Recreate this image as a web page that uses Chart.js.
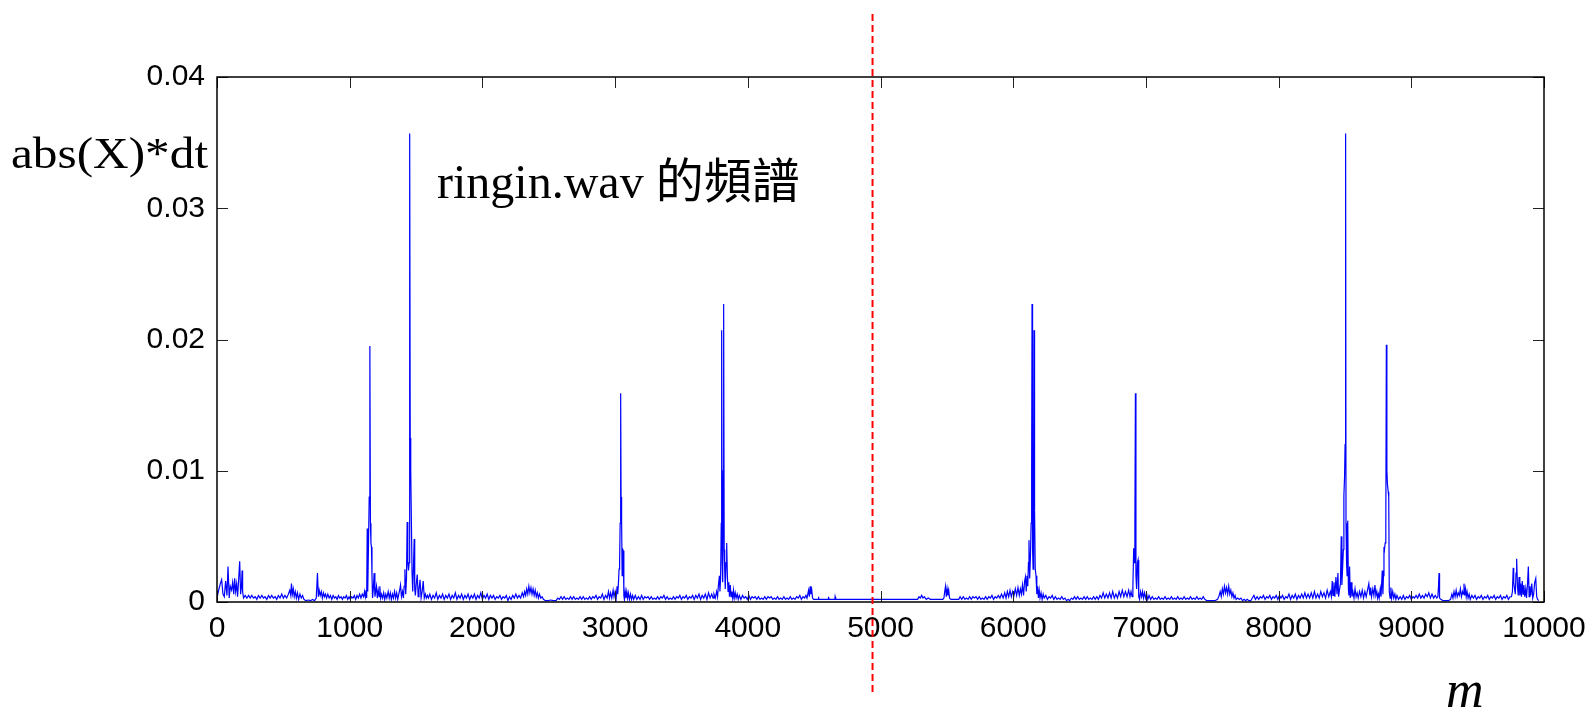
<!DOCTYPE html>
<html>
<head>
<meta charset="utf-8">
<script src="https://cdn.jsdelivr.net/npm/chart.js@4.4.1/dist/chart.umd.min.js"></script>
<style>
  html, body { margin: 0; padding: 0; background: #fff; }
  canvas { display: block; }
</style>
</head>
<body>
<canvas id="chartCanvas" width="1591" height="707"></canvas>
<script>
// Axis ticks
const xTicks = [0, 1000, 2000, 3000, 4000, 5000, 6000, 7000, 8000, 9000, 10000];
const yTicks = [0, 0.01, 0.02, 0.03, 0.04];

// Texts
const yLabel = 'abs(X)*dt';
const xLabel = 'm';
const titleText = 'ringin.wav 的頻譜';

// Dashed red marker position (index m)
const markerM = 4940;

// Spectrum |X|*dt: [m, value in units of 1e-4]
const lowHalf = [
  [0,3],[10,8],[25,14],[35,17],[45,6],[55,4],[65,16],[75,5],[83,27],[92,3],[100,12],[110,9],[118,15],[126,6],[133,18],[140,8],[148,14],[155,4],[163,17],[171,31],[178,6],[185,13],[189,24],[193,8],[200,3],
  [212,5],[225,3],[238,5],[250,3],[262,5],[275,3],[288,4],[300,2],[312,5],[325,3],[338,5],[350,3],[362,4],[375,2],[388,5],[400,3],[412,5],[425,3],[438,4],[450,2],[462,5],[475,3],[488,6],[500,3],[512,5],[525,3],[538,6],
  [548,9],[556,5],[561,14],[568,6],[575,10],[582,4],[590,8],[598,3],[606,7],[615,2],[625,6],[635,3],[645,5],[655,2],
  [670,1],[690,1.5],[705,1],[720,2],[735,1],[748,3],[757,22],[764,4],[770,9],[778,5],[786,8],[794,3],[802,7],[810,4],[818,6],[826,3],[835,6],[845,3],[855,5],[865,2],[875,5],[885,3],[895,4],[905,2],[915,5],[925,3],[935,4],[945,2],[955,4],[965,3],[975,5],[985,2],[995,4],[1005,2],[1015,4],[1025,3],[1035,5],[1045,2],[1055,5],[1065,3],[1075,6],[1085,3],[1095,6],[1105,4],[1112,8],[1118,4],[1124,9],
  [1128,3],[1132,56],[1136,8],[1141,40],[1147,80],[1152,195],[1156,60],[1160,45],[1164,42],[1168,20],[1172,3],[1178,10],[1184,22],[1190,4],[1196,8],[1202,12],[1208,3],[1215,9],[1222,4],[1227,12],[1233,3],[1240,6],[1248,3],[1256,7],[1264,2],[1272,6],[1280,3],[1290,8],[1298,3],[1306,7],[1314,2],[1322,6],[1330,3],[1338,8],[1346,3],[1354,7],[1362,2],[1370,6],[1378,10],[1383,13],[1390,4],[1398,8],[1405,3],
  [1410,12],[1416,25],[1422,6],[1428,18],[1433,61],[1438,30],[1443,24],[1448,30],[1451,90],[1453,357],[1456,125],[1460,100],[1465,60],[1470,22],[1475,8],[1480,25],[1486,48],[1490,10],[1495,5],[1500,12],[1509,21],[1516,4],[1522,9],[1530,17],[1538,3],[1546,8],[1554,16],[1562,3],[1570,6],[1578,3],[1586,5],
  [1594,3],[1604,6],[1616,2],[1628,5],[1640,3],[1652,7],[1664,2],[1676,5],[1688,3],[1700,6],[1712,2],[1724,5],[1736,3],[1748,6],[1760,2],[1772,5],[1784,3],[1796,7],[1808,2],[1820,5],[1832,3],[1844,6],[1856,2],[1868,5],[1880,3],[1892,6],[1904,2],[1916,5],[1928,3],[1940,6],[1952,2],[1964,5],[1976,3],[1988,7],[2000,2],[2012,5],[2024,3],[2036,6],[2048,2],[2060,5],[2072,3],[2084,5],[2096,2],[2108,4],[2120,3],[2132,5],[2144,2],[2156,4],[2168,3],[2180,5],[2192,1],[2204,4],[2216,2],[2228,5],[2240,3],[2252,6],[2264,3],[2276,5],[2288,3],[2300,7],
  [2310,4],[2318,8],[2326,5],[2334,10],[2342,6],[2350,12],[2358,7],[2366,11],[2374,6],[2382,10],[2390,5],[2398,9],[2406,4],[2414,7],[2422,3],[2430,6],[2440,3],[2450,4],[2460,2],
  [2475,1],[2495,1],[2515,1.5],[2535,1],[2555,1],
  [2568,3],[2580,2],[2592,4],[2604,2],[2616,4],[2628,2],[2640,3],[2652,2],[2664,4],[2676,2],[2688,4],[2700,2],[2712,3],[2724,2],[2736,4],[2748,2],[2760,4],[2772,2],[2784,3],[2796,2],[2808,4],[2820,2],[2832,4],[2844,3],[2856,5],[2868,2],[2880,4],[2892,3],[2904,6],[2916,2],[2928,5],[2940,3],[2950,8],[2958,3],[2966,7],[2975,3],[2985,9],[2992,4],[3000,8],[3008,3],[3015,12],[3020,6],[3025,14],[3030,25],[3034,30],[3038,60],[3042,159],[3045,80],[3049,62],[3053,20],[3058,40],[3062,39],[3066,5],[3070,2],[3076,8],[3082,3],[3088,8],[3094,3],[3100,7],[3108,2],[3116,6],[3124,2],[3132,5],[3140,2],
  [3152,5],[3164,2],[3176,4],[3188,2],[3200,5],[3212,2],[3224,4],[3236,3],[3248,4],[3260,2],[3272,4],[3284,2],[3296,3],[3308,2],[3320,4],[3332,2],[3344,4],[3356,3],[3368,5],[3380,2],[3392,4],[3404,2],[3416,3],[3428,2],[3440,4],[3452,2],[3464,4],[3476,3],[3488,5],[3500,2],[3512,4],[3524,3],[3536,5],[3548,2],[3560,4],[3572,3],[3584,5],[3596,2],[3608,5],[3620,3],[3632,6],[3644,2],[3656,5],[3668,3],[3680,6],[3692,2],[3704,7],[3716,3],[3728,6],[3738,3],
  [3745,6],[3755,3],[3765,8],[3772,4],[3778,12],[3786,20],[3790,8],[3795,18],[3800,60],[3803,207],[3807,30],[3811,15],[3815,100],[3818,227],[3822,40],[3826,25],[3830,10],[3836,30],[3841,45],[3846,20],[3851,8],[3857,15],[3862,4],[3868,13],[3874,4],[3880,8],[3886,3],[3892,9],[3898,3],[3905,7],[3912,3],[3920,6],[3928,2],[3936,5],
  [3948,2],[3960,5],[3972,3],[3984,4],[3996,2],[4008,5],[4020,2],[4032,4],[4044,3],[4056,4],[4068,2],[4080,4],[4092,2],[4104,3],[4116,2],[4128,4],[4140,2],[4152,4],[4164,3],[4176,4],[4188,2],[4200,3],[4212,2],[4224,4],[4236,2],[4248,3],[4260,2],[4272,4],[4284,2],[4296,3],[4308,2],[4320,4],[4332,2],[4344,3],[4356,2],[4368,4],[4380,3],[4392,5],[4404,2],[4416,4],[4428,3],[4438,5],
  [4446,3],[4452,6],[4458,9],[4464,4],[4470,12],[4476,6],[4482,9],[4488,3],[4496,2],
  [4530,2],[4532,4],[4536,2],[4606,2],[4608,4],[4612,2],[4656,2],[4658,4],[4662,2],[4980,2]
];

const highHalf = [
  [5280,2],[5290,4],[5300,3],[5310,5],[5320,3],[5330,4],[5345,2],[5360,3],[5375,2],[5400,2],[5470,2],[5478,3],[5484,8],[5490,12],[5496,4],[5502,10],[5508,5],[5514,9],[5520,3],[5530,2],[5590,2],
  [5600,4],[5612,2],[5624,4],[5636,2],[5648,3],[5660,2],[5672,4],[5684,2],[5696,4],[5708,3],[5720,4],[5732,2],[5744,4],[5756,2],[5768,3],[5780,2],[5792,4],[5804,2],[5816,4],[5828,3],[5840,5],[5852,2],[5864,4],[5876,3],[5888,5],[5900,3],[5912,6],[5924,3],[5936,7],[5946,3],[5956,8],[5966,4],[5976,9],[5986,4],[5996,8],[6006,5],[6016,10],[6026,5],[6036,11],[6046,5],[6054,10],
  [6062,6],[6070,13],[6078,5],[6086,16],[6092,19],[6098,8],[6104,20],[6110,12],[6115,30],[6119,47],[6124,18],[6130,35],[6135,60],[6139,100],[6142,227],[6146,40],[6150,25],[6154,60],[6157,207],[6161,70],[6166,25],[6172,20],[6178,6],[6184,12],[6190,3],[6196,9],[6202,3],[6210,7],[6218,2],[6226,6],[6234,3],
  [6246,5],[6258,2],[6270,4],[6282,3],[6294,5],[6306,2],[6318,4],[6330,2],[6342,3],[6354,2],[6366,4],[6378,2],[6390,3],[6402,1],[6414,2],[6426,1],[6438,3],[6450,2],[6462,4],[6474,2],[6486,4],[6498,2],[6510,3],[6522,2],[6534,4],[6546,2],[6558,4],[6570,2],[6582,3],[6594,2],[6606,4],[6618,2],[6630,4],[6642,2],[6654,5],[6666,3],[6678,7],[6690,3],[6702,6],[6714,3],[6726,7],[6738,3],[6750,8],[6762,3],[6774,6],[6786,3],[6798,8],[6810,4],[6822,9],[6834,4],[6846,8],[6858,4],[6870,9],[6880,4],
  [6888,8],[6896,4],[6902,12],[6908,41],[6912,30],[6917,60],[6921,159],[6925,20],[6930,10],[6936,30],[6941,32],[6946,4],[6952,2],[6960,8],[6968,4],[6975,8],[6982,3],[6990,7],[6998,3],[7006,6],[7014,2],[7024,5],
  [7036,2],[7048,4],[7060,2],[7072,3],[7084,2],[7096,4],[7108,2],[7120,3],[7132,2],[7144,4],[7156,2],[7168,3],[7180,2],[7192,4],[7204,2],[7216,3],[7228,2],[7240,4],[7252,2],[7264,3],[7276,2],[7288,4],[7300,2],[7312,3],[7324,2],[7336,4],[7348,2],[7360,3],[7372,2],[7384,4],[7396,2],[7408,3],[7420,2],[7432,4],[7444,2],[7460,1],[7480,1],[7500,1],[7520,1],[7540,2],
  [7552,5],[7560,8],[7568,4],[7576,10],[7584,6],[7592,12],[7600,7],[7608,11],[7616,6],[7624,12],[7632,6],[7640,9],[7648,4],[7656,7],[7664,3],[7672,5],[7680,2],
  [7692,3],[7704,2],[7716,3],[7728,1],[7740,2],[7752,1],[7764,2],[7776,1],[7790,1],
  [7802,3],[7814,5],[7826,2],[7838,4],[7850,2],[7862,4],[7874,3],[7886,5],[7898,2],[7910,4],[7922,3],[7934,5],[7946,2],[7958,4],[7970,3],[7982,5],[7994,2],[8006,5],[8018,3],[8030,5],[8042,2],[8054,4],[8066,3],[8078,6],[8090,2],[8102,5],[8114,3],[8126,6],[8138,2],[8150,5],[8162,3],[8174,6],[8186,3],[8198,7],[8210,3],[8222,6],[8234,3],[8246,7],[8258,3],[8270,8],[8282,3],[8294,6],[8306,3],[8318,8],[8330,4],[8342,7],[8354,3],[8366,9],[8378,4],[8390,8],
  [8398,4],[8404,16],[8410,5],[8417,15],[8424,4],[8432,19],[8440,6],[8447,22],[8452,4],[8460,10],[8466,14],[8472,50],[8477,13],[8482,25],[8488,40],[8492,81],[8497,95],[8501,120],[8505,357],[8508,60],[8512,31],[8516,20],[8521,62],[8526,10],[8530,5],[8535,27],[8540,3],[8547,15],[8553,4],[8560,8],[8568,3],[8576,10],[8584,4],[8592,7],[8600,3],[8610,8],[8620,4],[8630,9],[8640,3],[8650,8],[8660,4],[8670,9],[8680,14],[8688,5],[8694,11],[8700,4],[8710,10],[8718,5],[8726,13],[8733,5],[8740,8],[8746,3],
  [8752,6],[8758,3],[8766,10],[8772,4],[8781,24],[8786,6],[8790,20],[8794,42],[8798,40],[8803,45],[8808,60],[8812,196],[8816,100],[8820,90],[8826,84],[8830,80],[8834,8],[8840,3],[8846,11],[8852,3],[8860,8],[8868,3],[8876,6],[8884,2],
  [8892,5],[8904,2],[8916,4],[8928,2],[8940,5],[8952,2],[8964,4],[8976,3],[8988,5],[9000,2],[9012,4],[9024,3],[9036,5],[9048,3],[9060,6],[9072,3],[9084,5],[9096,3],[9108,6],[9120,4],[9132,7],[9144,3],[9156,6],[9168,3],[9180,5],[9192,3],[9200,4],[9205,12],[9209,22],[9213,3],[9222,2],
  [9240,1],[9260,1],[9280,1],[9296,2],
  [9306,6],[9314,3],[9322,8],[9330,4],[9338,9],[9346,4],[9354,7],[9362,5],[9370,10],[9378,4],[9386,8],[9392,6],[9397,14],[9402,5],[9408,10],[9414,4],[9420,8],[9428,3],[9436,6],[9444,2],
  [9456,5],[9468,3],[9480,5],[9492,2],[9504,4],[9516,3],[9528,5],[9540,2],[9552,4],[9564,3],[9576,5],[9588,2],[9600,4],[9612,3],[9624,5],[9636,2],[9648,4],[9660,3],[9672,5],[9684,2],[9696,4],[9708,3],[9720,5],[9732,2],[9744,4],
  [9755,4],[9762,8],[9768,26],[9772,15],[9778,10],[9784,6],[9789,22],[9794,33],[9800,12],[9806,5],[9812,19],[9818,5],[9824,14],[9830,4],[9836,16],[9842,6],[9848,13],[9855,4],[9862,10],[9868,3],[9876,14],[9882,27],[9888,4],[9894,12],[9900,5],[9908,14],[9915,3],[9922,6],[9930,15],[9938,18],[9945,4],[9952,2],[9960,1]
];

const points = lowHalf.concat(highHalf).map(p => ({ x: p[0], y: p[1] / 10000 }));

const tickFont = { family: '"Liberation Sans", Arial, sans-serif', size: 30 };

// Frame, inner tick marks, marker line and texts in MATLAB style
const decorations = {
  id: 'decorations',
  afterDraw(chart) {
    const { ctx, chartArea: a, scales } = chart;
    const xs = scales.x, ys = scales.y;
    const tl = 11;
    ctx.save();

    // inner ticks
    ctx.strokeStyle = '#222';
    ctx.lineWidth = 1;
    ctx.beginPath();
    xTicks.forEach(v => {
      const px = Math.round(xs.getPixelForValue(v)) + 0.5;
      ctx.moveTo(px, a.bottom); ctx.lineTo(px, a.bottom - tl);
      ctx.moveTo(px, a.top); ctx.lineTo(px, a.top + tl);
    });
    yTicks.forEach(v => {
      const py = Math.round(ys.getPixelForValue(v)) + 0.5;
      ctx.moveTo(a.left, py); ctx.lineTo(a.left + tl, py);
      ctx.moveTo(a.right, py); ctx.lineTo(a.right - tl, py);
    });
    ctx.stroke();

    // box
    ctx.strokeStyle = '#000';
    ctx.lineWidth = 1.5;
    ctx.strokeRect(a.left, a.top, a.right - a.left, a.bottom - a.top);

    // dashed marker
    const mx = xs.getPixelForValue(markerM);
    ctx.strokeStyle = '#ff0000';
    ctx.lineWidth = 2;
    ctx.setLineDash([7, 4]);
    ctx.beginPath();
    ctx.moveTo(mx, 14);
    ctx.lineTo(mx, 695);
    ctx.stroke();
    ctx.setLineDash([]);

    // texts
    ctx.fillStyle = '#000';
    ctx.textBaseline = 'alphabetic';
    ctx.textAlign = 'left';

    ctx.save();
    ctx.translate(11, 168);
    ctx.scale(1.12, 1);
    ctx.font = '44px "Liberation Serif", "Times New Roman", serif';
    ctx.fillText(yLabel, 0, 0);
    ctx.restore();

    ctx.font = '48px "Liberation Serif", "Noto Sans CJK TC", serif';
    ctx.fillText(titleText, 437, 198);

    ctx.font = 'italic 52px "Liberation Serif", "Times New Roman", serif';
    ctx.fillText(xLabel, 1446, 707);

    ctx.restore();
  }
};

new Chart(document.getElementById('chartCanvas').getContext('2d'), {
  type: 'line',
  data: {
    datasets: [{
      data: points,
      borderColor: '#0000ff',
      borderWidth: 1.2,
      pointRadius: 0,
      tension: 0,
      fill: false
    }]
  },
  options: {
    responsive: false,
    animation: false,
    parsing: false,
    layout: { padding: { top: 77, right: 47, left: 0, bottom: 0 } },
    plugins: { legend: { display: false }, tooltip: { enabled: false } },
    scales: {
      x: {
        type: 'linear',
        min: 0,
        max: 10000,
        afterBuildTicks: s => { s.ticks = xTicks.map(v => ({ value: v })); },
        afterFit: s => { s.height = 105; s.paddingLeft = 0; s.paddingRight = 0; },
        grid: { display: false, drawTicks: false },
        border: { display: false },
        ticks: {
          color: '#000',
          font: tickFont,
          padding: 9,
          maxRotation: 0,
          autoSkip: false,
          callback: v => String(v)
        }
      },
      y: {
        type: 'linear',
        min: 0,
        max: 0.04,
        afterBuildTicks: s => { s.ticks = yTicks.map(v => ({ value: v })); },
        afterFit: s => { s.width = 217; s.paddingTop = 0; s.paddingBottom = 0; },
        grid: { display: false, drawTicks: false },
        border: { display: false },
        ticks: {
          color: '#000',
          font: tickFont,
          padding: 12,
          callback: v => (v === 0 ? '0' : v.toFixed(2))
        }
      }
    }
  },
  plugins: [decorations]
});
</script>
</body>
</html>
